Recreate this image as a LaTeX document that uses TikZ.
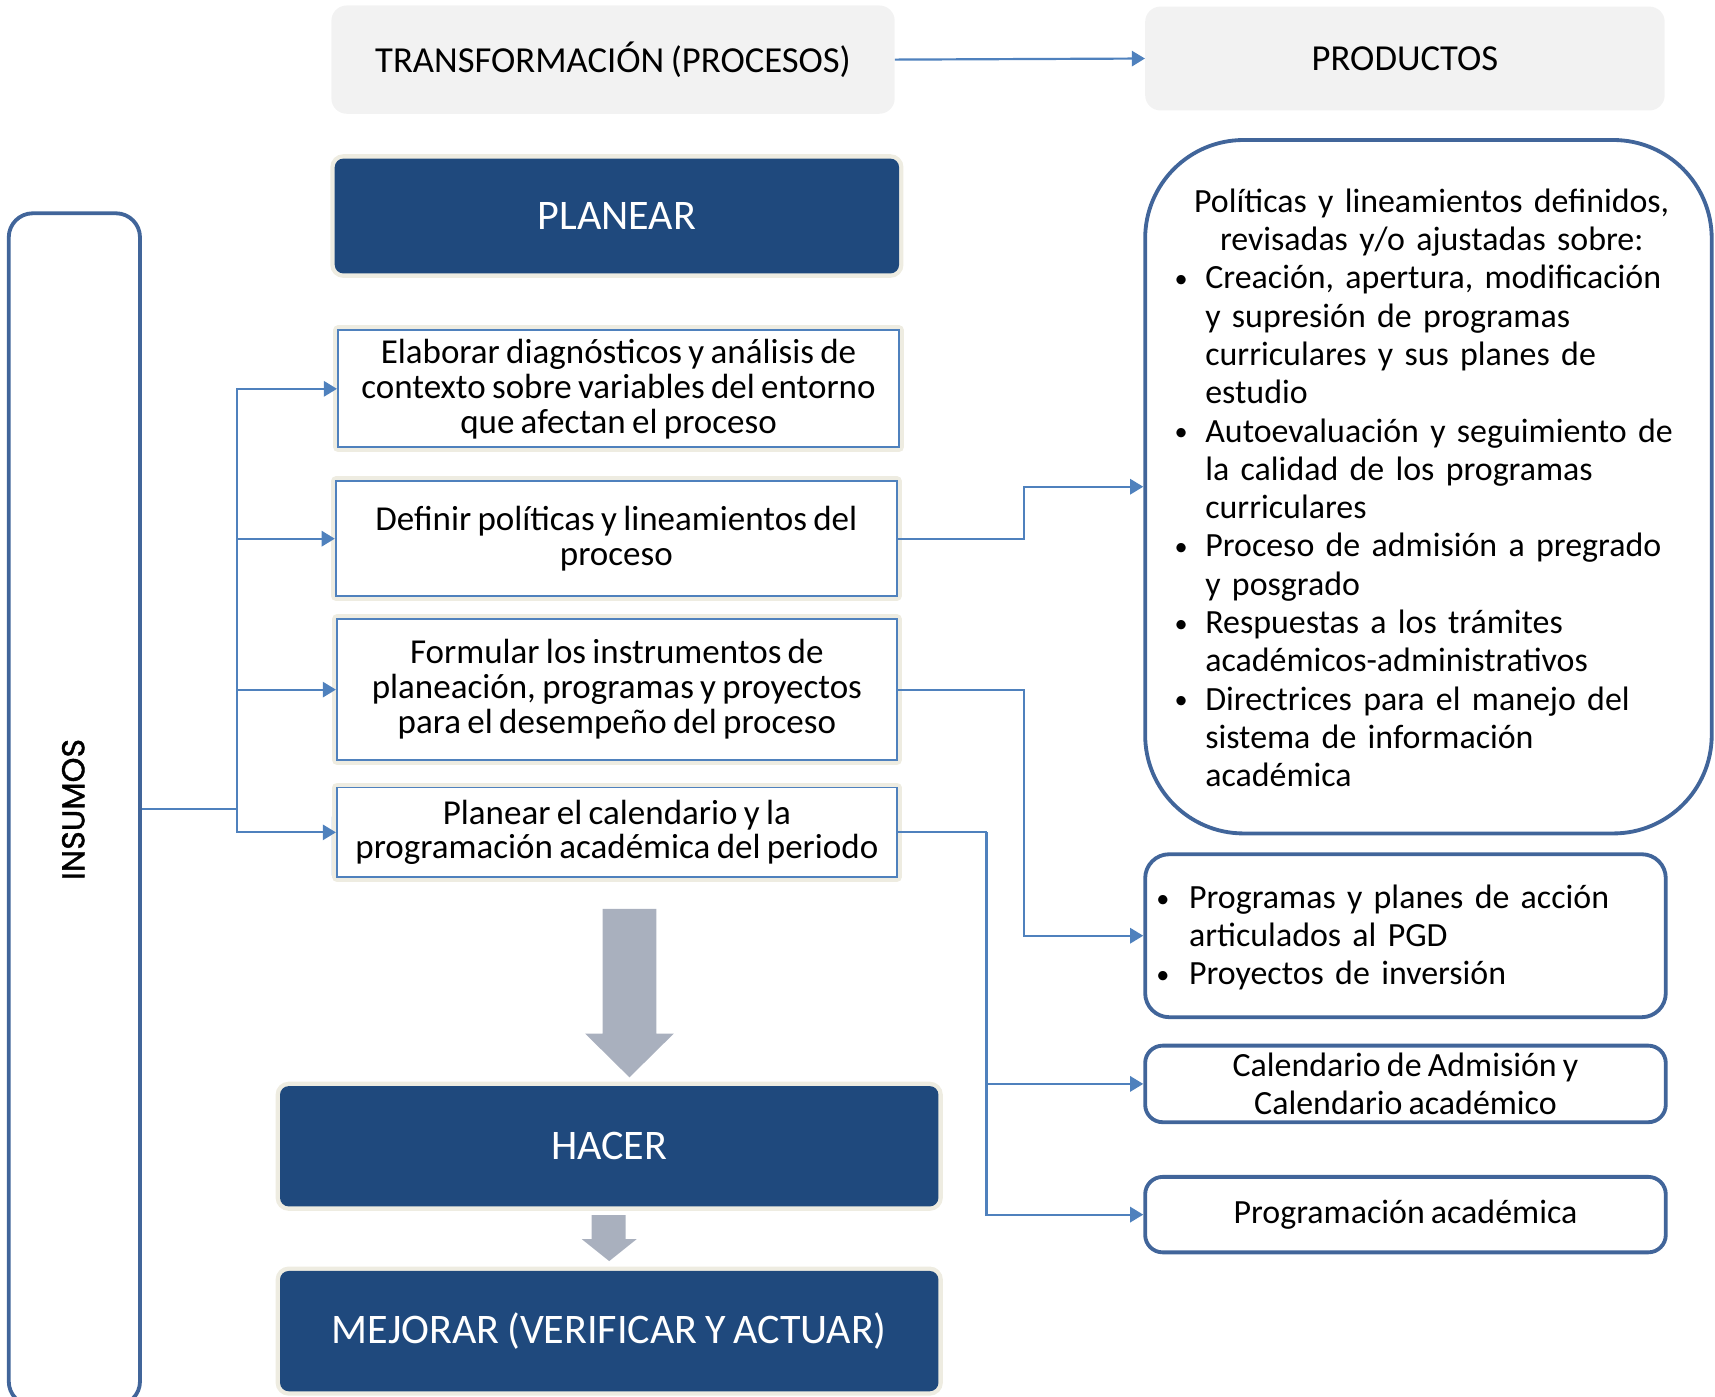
\documentclass[tikz,border=0pt]{standalone}
\usepackage{fontspec}
\setmainfont{Carlito}[WordSpace=0.8]
\newfontfamily\insfont{Poppins}[FakeBold=1.2]
\usetikzlibrary{arrows.meta}
\definecolor{dblue}{HTML}{1F497D}
\definecolor{hbg}{HTML}{F2F2F2}
\definecolor{halo}{HTML}{EEECE1}
\definecolor{lblue}{HTML}{4F81BD}
\definecolor{pblue}{HTML}{41659A}
\definecolor{garrow}{HTML}{A9B0BE}
\newcommand\bul{\hangindent=28pt\hangafter=1\noindent\makebox[28pt][l]{\raisebox{1pt}{\fontsize{24}{24}\selectfont•}}}
\newcommand\bulb{\hangindent=30pt\hangafter=1\noindent\makebox[30pt][l]{\raisebox{1pt}{\fontsize{24}{24}\selectfont•}}}
\begin{document}
\begin{tikzpicture}[x=1pt,y=-1pt,
  hdr/.style={fill=hbg, rounded corners=14pt, inner sep=0pt, font=\fontsize{33.5}{38}\selectfont},
  phase/.style={fill=dblue, rounded corners=8pt, text=white, inner sep=0pt,
    font=\fontsize{38.5}{44}\selectfont, preaction={draw=halo, line width=8pt}},
  act/.style={fill=white, draw=lblue, line width=1.8pt, align=center, inner sep=0pt,
    font=\fontsize{32}{32}\selectfont, preaction={draw=halo, line width=9pt, line join=round}},
  prod/.style={fill=white, draw=pblue, line width=3.5pt, inner sep=0pt,
    font=\fontsize{31}{35}\selectfont},
  ptext/.style={inner sep=0pt, align=left, font=\fontsize{31}{35}\selectfont},
  conn/.style={draw=lblue, line width=2pt, -{Triangle[length=12pt,width=14pt]}},
  garr/.style={fill=garrow}
]
\useasboundingbox (0,0) rectangle (1568,1277);

% headers
\node[hdr, minimum width=515pt, minimum height=99pt] (T) at (560.5,54.5) {TRANSFORMACIÓN (PROCESOS)};
\node[hdr, minimum width=475pt, minimum height=95pt] (P) at (1284.5,53.5) {PRODUCTOS};
\draw[conn] (T.east) -- (P.west);

% insumos
\node[draw=pblue, line width=3.5pt, rounded corners=22pt, minimum width=120pt, minimum height=1090pt, inner sep=0pt] (ins) at (68,740) {};
\node[rotate=90, font=\insfont\fontsize{29}{34}\selectfont] (inst) at (67,740) {INSUMOS};

% planear
\node[phase, minimum width=516pt, minimum height=105pt] (plan) at (564,197.5) {PLANEAR};

% activities
\node[act, minimum width=513pt, minimum height=107pt] (b1) at (565.5,355.5)
  {Elaborar diagnósticos y análisis de\\contexto sobre variables del entorno\\que afectan el proceso};
\node[act, minimum width=513pt, minimum height=105pt] (b2) at (563.5,492.5)
  {Definir políticas y lineamientos del\\proceso};
\node[act, minimum width=512pt, minimum height=129pt] (b3) at (564,630.5)
  {Formular los instrumentos de\\planeación, programas y proyectos\\para el desempeño del proceso};
\draw[lblue, line width=1.2pt, rounded corners=5pt] (304,742) rectangle (824,805);
\node[act, preaction={}, minimum width=512pt, minimum height=82pt] (b4) at (564,761)
  {Planear el calendario y la\\programación académica del periodo};

% connectors from insumos
\coordinate (jn) at (217,740);
\draw[lblue, line width=2pt] (ins.east) -- (jn);
\draw[conn] (jn) |- (b1.west);
\draw[conn] (jn) |- (b2.west);
\draw[conn] (jn) |- (b3.west);
\draw[conn] (jn) |- (b4.west);

% products
\node[prod, rounded corners=90pt, minimum width=518pt, minimum height=634pt] (p1) at (1306,445) {};
\node[ptext, text width=470pt] (p1t) at (1309,446) {%
\makebox[\linewidth][c]{Políticas y lineamientos definidos,}\par
\makebox[\linewidth][c]{revisadas y/o ajustadas sobre:}\par
\bul Creación, apertura, modificación\newline y supresión de programas\newline curriculares y sus planes de\newline estudio\par
\bul Autoevaluación y seguimiento de\newline la calidad de los programas\newline curriculares\par
\bul Proceso de admisión a pregrado\newline y posgrado\par
\bul Respuestas a los trámites\newline académicos-administrativos\par
\bul Directrices para el manejo del\newline sistema de información\newline académica\par};

\node[prod, rounded corners=22pt, minimum width=476pt, minimum height=149pt] (p2) at (1285,855.5) {};
\node[ptext, text width=440pt, anchor=west] (p2t) at (1057,857) {%
\bulb Programas y planes de acción\newline articulados al PGD\par
\bulb Proyectos de inversión\par};
\node[prod, rounded corners=16pt, minimum width=476pt, minimum height=70pt, align=center] (p3) at (1285,991)
  {Calendario de Admisión y\\Calendario académico};
\node[prod, rounded corners=16pt, minimum width=476pt, minimum height=69pt] (p4) at (1285,1110.5)
  {Programación académica};

% connectors to products
\draw[conn] (b2.east) -- ++(115,0) |- (p1.west);
\draw[conn] (b3.east) -- ++(115,0) |- (p2.west);
\coordinate (k4) at (902,761);
\draw[lblue, line width=2pt] (b4.east) -- (k4);
\draw[conn] (k4) |- (p3.west);
\draw[conn] (k4) |- (p4.west);

% gray arrows
\fill[garr] (551,831) -- (600,831) -- (600,945) -- (616,945) -- (575.5,985) -- (535,945) -- (551,945) -- cycle;
\fill[garr] (541,1111) -- (572,1111) -- (572,1133) -- (582,1133) -- (557,1153) -- (532,1133) -- (541,1133) -- cycle;

% hacer / mejorar
\node[phase, minimum width=602pt, minimum height=110pt] (hacer) at (557,1048) {HACER};
\node[phase, minimum width=602pt, minimum height=110pt] (mej) at (557,1217) {MEJORAR (VERIFICAR Y ACTUAR)};
\end{tikzpicture}
\end{document}
